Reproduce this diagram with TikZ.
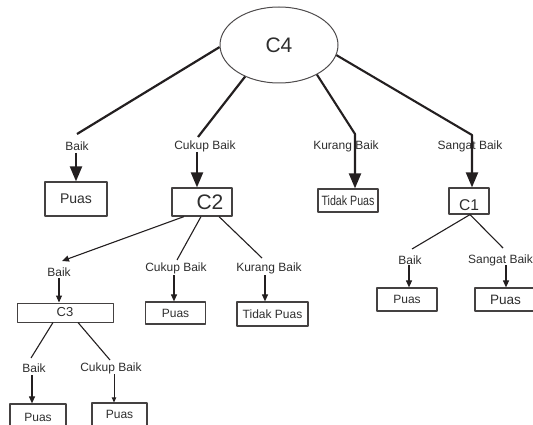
\documentclass[tikz,border=0pt]{standalone}
\usepackage{fontspec}
\setmainfont{Liberation Sans}
\usetikzlibrary{arrows.meta,shapes.geometric}
\definecolor{ink}{HTML}{231F20}
\definecolor{txt}{HTML}{2E2E2E}
\begin{document}
\begin{tikzpicture}[x=1pt,y=-1pt,line join=round,
  box/.style={draw=ink!85, line width=1.2pt, inner sep=0pt, text=txt, font=\fontsize{12}{14}\selectfont},
  lab/.style={inner sep=0pt, text=txt, font=\fontsize{12}{14}\selectfont},
  thickline/.style={draw=ink, line width=2.2pt},
  thickarrow/.style={draw=ink, line width=2.1pt, -{Triangle[length=15pt,width=12pt]}},
  thinline/.style={draw=ink, line width=1.1pt},
  thinarrow/.style={draw=ink, line width=1.1pt, -{Triangle[length=7pt,width=6pt]}},
  tinyarrow/.style={draw=ink, line width=0.9pt, -{Triangle[length=5pt,width=4.5pt]}},
]
\useasboundingbox (0,0) rectangle (533,425);

% root
\node[ellipse, draw=ink!80, line width=1pt, minimum width=118pt, minimum height=76pt, inner sep=0pt,
      text=txt, font=\fontsize{21}{24}\selectfont] (c4) at (279,45) {C4};

% level 1: Baik
\coordinate (t1) at (77,134);
\node[lab] (l1) at (77,146) {Baik};
\coordinate (s1) at (76,153);
\node[box, minimum width=62pt, minimum height=34pt, font=\fontsize{14}{16}\selectfont] (p1) at (76,199) {Puas};
\draw[thickline] (c4.182) -- (t1);
\draw[thickarrow] (s1) -- (s1 |- p1.north);

% level 1: Cukup Baik
\coordinate (t2) at (198,137);
\node[lab] (l2) at (205,146) {Cukup Baik};
\coordinate (s2) at (197,152);
\node[box, minimum width=60pt, minimum height=28pt, font=\fontsize{21}{24}\selectfont] (c2) at (202,202) {\hspace*{16pt}C2};
\draw[thickline] (c4.223) -- (t2);
\draw[thickarrow] (s2) -- (s2 |- c2.north);

% level 1: Kurang Baik
\coordinate (t3) at (355,134);
\node[lab] (l3) at (346,146) {Kurang Baik};
\node[box, minimum width=60pt, minimum height=23pt, font=\fontsize{13.5}{16}\selectfont] (tp1) at (348,200.5) {\scalebox{0.79}[1]{Tidak Puas}};
\draw[thickarrow] (c4.322) -- (t3) -- (t3 |- tp1.north);

% level 1: Sangat Baik
\coordinate (t4) at (472,135);
\node[lab] (l4) at (470,146) {Sangat Baik};
\node[box, minimum width=40pt, minimum height=26pt, text height=20pt, font=\fontsize{15.6}{18}\selectfont] (c1) at (469,201) {C1};
\draw[thickarrow] (c4.350) -- (t4) -- (t4 |- c1.north);

% level 2 under C2
\coordinate (t5) at (62,261);
\node[lab] (l5) at (59,272) {Baik};
\coordinate (s5) at (59,278);
\node[box, line width=1pt, minimum width=96pt, minimum height=19pt, font=\fontsize{13}{15}\selectfont] (c3) at (65,312.5) {C3};
\draw[thinarrow] ([xshift=-18pt]c2.south) -- (t5);
\draw[thinarrow] (s5) -- (s5 |- c3.north);

\coordinate (t6) at (177,260);
\node[lab] (l6) at (176,268) {Cukup Baik};
\coordinate (s6) at (174,275);
\node[box, minimum width=60pt, minimum height=22pt] (p2) at (175.5,313) {Puas};
\draw[thinline] ([xshift=-1pt]c2.south) -- (t6);
\draw[thinarrow] (s6) -- (s6 |- p2.north);

\coordinate (t7) at (262,258);
\node[lab] (l7) at (269,268) {Kurang Baik};
\coordinate (s7) at (265,275);
\node[box, minimum width=71pt, minimum height=24pt] (tp2) at (272.5,314) {Tidak Puas};
\draw[thinline] ([xshift=17pt]c2.south) -- (t7);
\draw[thinarrow] (s7) -- (s7 |- tp2.north);

% level 2 under C1
\coordinate (t8) at (412,249);
\node[lab] (l8) at (410,260) {Baik};
\coordinate (s8) at (409,265);
\node[box, minimum width=60pt, minimum height=23pt] (p3) at (407,299.5) {Puas};
\draw[thinline] ([xshift=1pt]c1.south) -- (t8);
\draw[thinarrow] (s8) -- (s8 |- p3.north);

\coordinate (t9) at (503,248);
\node[lab] (l9) at (500.5,260) {Sangat Baik};
\coordinate (s9) at (506,265);
\node[box, minimum width=61pt, minimum height=23pt, font=\fontsize{13.6}{16}\selectfont] (p4) at (505.5,299.5) {Puas};
\draw[thinline] ([xshift=1pt]c1.south) -- (t9);
\draw[thinarrow] (s9) -- (s9 |- p4.north);

% level 3 under C3
\coordinate (t10) at (31,358);
\node[lab] (l10) at (34,368) {Baik};
\coordinate (s10) at (32,375);
\node[box, minimum width=56pt, minimum height=26pt] (p5) at (38,417) {Puas};
\draw[thinline] ([xshift=-12pt]c3.south) -- (t10);
\draw[thinarrow] (s10) -- (s10 |- p5.north);

\coordinate (t11) at (110,360);
\node[lab] (l11) at (111,368) {Cukup Baik};
\coordinate (s11) at (114,374);
\node[box, minimum width=55pt, minimum height=23pt] (p6) at (119.5,414.5) {Puas};
\draw[thinline] ([xshift=13pt]c3.south) -- (t11);
\draw[tinyarrow] (s11) -- (s11 |- p6.north);
\end{tikzpicture}
\end{document}
